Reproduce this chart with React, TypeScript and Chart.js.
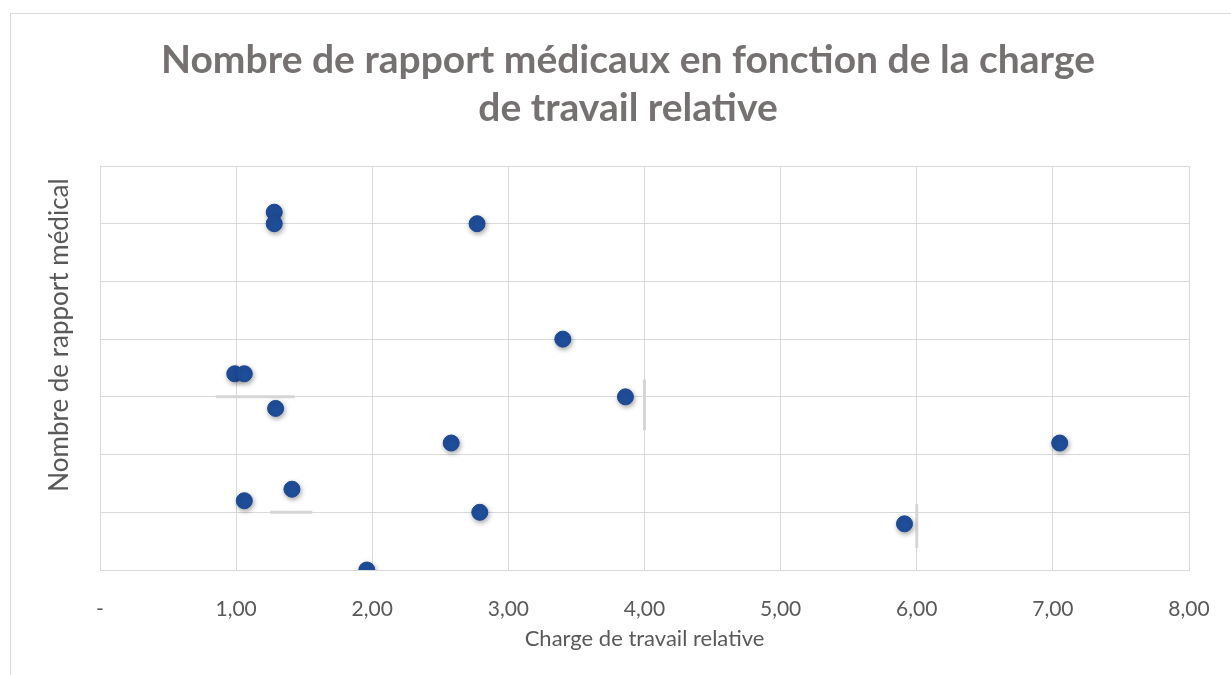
import React, { useEffect, useRef } from "react";
import { Chart, registerables } from "chart.js";

Chart.register(...registerables);

const chargeRelative = [1.28, 1.28, 2.77, 3.40, 0.99, 1.06, 1.29, 3.86, 2.58, 7.05, 1.06, 1.41, 2.79, 5.91, 1.96];
const nombreRapports = [31, 30, 30, 20, 17, 17, 14, 15, 11, 11, 6, 7, 5, 4, 0];
const xTicks = [0, 1, 2, 3, 4, 5, 6, 7, 8];

// faint gray segments visible in the reference (start/end in data units)
const segX1 = [0.85, 1.25, 4.0, 6.0];
const segX2 = [1.43, 1.56, 4.0, 6.0];
const segY1 = [15, 5, 12.1, 1.9];
const segY2 = [15, 5, 16.5, 5.7];

const titleLines = ["Nombre de rapport médicaux en fonction de la charge", "de travail relative"];
const xTitle = "Charge de travail relative";
const yTitle = "Nombre de rapport médical";

const FONT = "Lato, 'Open Sans', sans-serif";

export default function App() {
  const ref = useRef<HTMLCanvasElement | null>(null);
  useEffect(() => {
    document.body.style.margin = "0";
    const canvas = ref.current!;
    const points = chargeRelative.map((x, i) => ({ x, y: nombreRapports[i] }));
    const segDatasets = segX1.map((x1, i) => ({
      type: "line" as const,
      data: [
        { x: x1, y: segY1[i] },
        { x: segX2[i], y: segY2[i] },
      ],
      borderColor: "#d6d6d6",
      borderWidth: 3,
      pointRadius: 0,
      fill: false,
      order: 2,
    }));
    const framePlugin = {
      id: "frame",
      beforeDraw(chart: any) {
        const ctx = chart.ctx;
        ctx.save();
        ctx.fillStyle = "#ffffff";
        ctx.fillRect(0, 0, chart.width, chart.height);
        ctx.strokeStyle = "#d9d9d9";
        ctx.lineWidth = 1;
        ctx.strokeRect(10.5, 13.5, 1400, 800);
        ctx.restore();
      },
      beforeDatasetDraw(chart: any, args: any) {
        const ctx = chart.ctx;
        ctx.save();
        if (args.index === 0) {
          ctx.shadowColor = "rgba(0,0,0,0.35)";
          ctx.shadowBlur = 5;
          ctx.shadowOffsetX = 1;
          ctx.shadowOffsetY = 2;
        }
      },
      afterDatasetDraw(chart: any) {
        chart.ctx.restore();
      },
      afterDraw(chart: any) {
        const ctx = chart.ctx;
        ctx.save();
        ctx.fillStyle = "#767171";
        ctx.font = `bold 39px ${FONT}`;
        ctx.textAlign = "center";
        ctx.textBaseline = "middle";
        ctx.fillText(titleLines[0], 628, 60);
        ctx.fillText(titleLines[1], 628, 108);
        ctx.restore();

        ctx.save();
        ctx.translate(60, 335);
        ctx.rotate(-Math.PI / 2);
        ctx.fillStyle = "#595959";
        ctx.font = `26px ${FONT}`;
        ctx.textAlign = "center";
        ctx.textBaseline = "middle";
        ctx.fillText(yTitle, 0, 0);
        ctx.restore();
      },
    };
    const chart = new Chart(canvas, {
      type: "scatter",
      data: {
        datasets: [
          {
            data: points,
            backgroundColor: "#1f4e9a",
            borderColor: "#1c4890",
            borderWidth: 1,
            pointRadius: 8,
            pointHoverRadius: 8,
            order: 1,
          },
          ...segDatasets,
        ] as any,
      },
      options: {
        responsive: false,
        animation: false,
        layout: { padding: { left: 0, right: 42, top: 166, bottom: 0 } },
        plugins: {
          legend: { display: false },
          tooltip: { enabled: false },
          title: { display: false },
        },
        scales: {
          x: {
            type: "linear",
            min: 0,
            max: 8,
            afterBuildTicks(scale: any) {
              scale.ticks = xTicks.map((v) => ({ value: v }));
            },
            afterFit(scale: any) {
              scale.height = 105;
              scale.paddingLeft = 0;
              scale.paddingRight = 0;
            },
            ticks: {
              color: "#595959",
              font: { family: FONT, size: 21 },
              padding: 27,
              maxRotation: 0,
              callback: (v: any) => (Number(v) === 0 ? "-" : Number(v).toFixed(2).replace(".", ",")),
            },
            grid: { color: "#d9d9d9", drawTicks: false },
            border: { color: "#d9d9d9" },
            title: {
              display: true,
              text: xTitle,
              color: "#595959",
              font: { family: FONT, size: 22 },
              padding: { top: 0, bottom: 23 },
            },
          },
          y: {
            type: "linear",
            min: 0,
            max: 35,
            ticks: { display: false, stepSize: 5 },
            afterFit(scale: any) {
              scale.width = 100;
            },
            grid: { color: "#d9d9d9", drawTicks: false },
            border: { color: "#d9d9d9" },
          },
        },
      },
      plugins: [framePlugin],
    });
    return () => chart.destroy();
  }, []);
  return (
    <div style={{ width: 1231, height: 675 }}>
      <canvas ref={ref} width={1231} height={675} style={{ display: "block" }} />
    </div>
  );
}
